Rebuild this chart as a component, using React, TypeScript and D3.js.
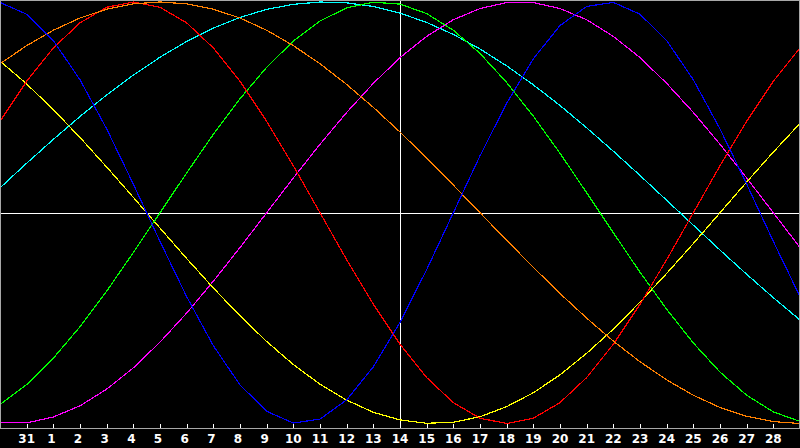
// BiorhythmChart.tsx
import React, { useEffect, useRef } from "react";
import * as d3 from "d3";

// Day labels under the ticks (tick 1..29)
const dayLabels = [
  "31", "1", "2", "3", "4", "5", "6", "7", "8", "9", "10", "11", "12", "13", "14",
  "15", "16", "17", "18", "19", "20", "21", "22", "23", "24", "25", "26", "27", "28",
];

// One value per day column (0..30), -1 .. 1
const physical = [
  0.998, 0.942, 0.817, 0.631, 0.398, 0.136, -0.136, -0.398, -0.631, -0.817, -0.942,
  -0.998, -0.979, -0.888, -0.731, -0.52, -0.27, 0, 0.27, 0.52, 0.731, 0.888, 0.979,
  0.998, 0.942, 0.817, 0.631, 0.398, 0.136, -0.136, -0.398,
];
const emotional = [
  0.434, 0.624, 0.782, 0.901, 0.975, 1, 0.975, 0.901, 0.782, 0.624, 0.434, 0.223, 0,
  -0.223, -0.434, -0.624, -0.782, -0.901, -0.975, -1, -0.975, -0.901, -0.782, -0.624,
  -0.434, -0.223, 0, 0.223, 0.434, 0.624, 0.782,
];
const intellectual = [
  -0.91, -0.815, -0.69, -0.541, -0.372, -0.189, 0, 0.189, 0.372, 0.541, 0.69, 0.815,
  0.91, 0.972, 0.999, 0.99, 0.945, 0.866, 0.756, 0.618, 0.458, 0.282, 0.095, -0.095,
  -0.282, -0.458, -0.618, -0.756, -0.866, -0.945, -0.99,
];
const intuitive = [
  -0.997, -0.997, -0.969, -0.916, -0.837, -0.736, -0.614, -0.476, -0.325, -0.165, 0,
  0.165, 0.325, 0.476, 0.614, 0.736, 0.837, 0.916, 0.969, 0.997, 0.997, 0.969, 0.916,
  0.837, 0.736, 0.614, 0.476, 0.325, 0.165, 0, -0.165,
];
const aesthetic = [
  0.72, 0.611, 0.489, 0.357, 0.217, 0.073, -0.073, -0.217, -0.357, -0.489, -0.611,
  -0.72, -0.814, -0.889, -0.947, -0.983, -0.999, -0.994, -0.968, -0.92, -0.854, -0.769,
  -0.667, -0.552, -0.424, -0.288, -0.146, 0, 0.146, 0.288, 0.424,
];
const awareness = [
  0.707, 0.793, 0.866, 0.924, 0.966, 0.991, 1, 0.991, 0.966, 0.924, 0.866, 0.793,
  0.707, 0.609, 0.5, 0.383, 0.259, 0.131, 0, -0.131, -0.259, -0.383, -0.5, -0.609,
  -0.707, -0.793, -0.866, -0.924, -0.966, -0.991, -1,
];
const spiritual = [
  0.118, 0.235, 0.348, 0.457, 0.559, 0.653, 0.738, 0.813, 0.876, 0.927, 0.965, 0.989,
  1.0, 0.996, 0.979, 0.947, 0.903, 0.846, 0.777, 0.697, 0.607, 0.509, 0.403, 0.292,
  0.177, 0.059, -0.059, -0.177, -0.292, -0.403, -0.509,
];

const seriesList = [
  { values: spiritual, color: "#00ffff" },
  { values: intuitive, color: "#ff00ff" },
  { values: aesthetic, color: "#ffff00" },
  { values: intellectual, color: "#00ff00" },
  { values: emotional, color: "#ff0000" },
  { values: awareness, color: "#ff8000" },
  { values: physical, color: "#0000ff" },
];

const todayIndex = 15; // column of "14"

const App: React.FC = () => {
  const ref = useRef<SVGSVGElement>(null);

  useEffect(() => {
    const width = 800,
      height = 448,
      plotBottom = 428;

    const svg = d3.select(ref.current);
    svg.selectAll("*").remove();

    // background
    svg.append("rect").attr("width", width).attr("height", height).attr("fill", "#000");

    const x = d3.scaleLinear().domain([0, 30]).range([0, width]);
    const y = d3.scaleLinear().domain([-1, 1]).range([423.5, 2]);

    // crosshair
    svg
      .append("line")
      .attr("x1", 0)
      .attr("x2", width)
      .attr("y1", 213.5)
      .attr("y2", 213.5)
      .attr("stroke", "#fff")
      .attr("stroke-width", 1)
      .attr("shape-rendering", "crispEdges");
    svg
      .append("line")
      .attr("x1", x(todayIndex) + 0.5)
      .attr("x2", x(todayIndex) + 0.5)
      .attr("y1", 0)
      .attr("y2", plotBottom)
      .attr("stroke", "#fff")
      .attr("stroke-width", 1)
      .attr("shape-rendering", "crispEdges");

    // curves
    const line = d3
      .line<number>()
      .x((_, i) => x(i))
      .y((d) => y(d));

    seriesList.forEach((s) => {
      svg
        .append("path")
        .datum(s.values)
        .attr("d", line)
        .attr("fill", "none")
        .attr("stroke", s.color)
        .attr("stroke-width", 1.2)
        .attr("shape-rendering", "crispEdges");
    });

    // frame (top, left, right, bottom axis)
    svg
      .append("path")
      .attr("d", `M0.5,${plotBottom + 0.5} V0.5 H${width - 0.5} V${plotBottom + 0.5} Z`)
      .attr("fill", "none")
      .attr("stroke", "#a8a8a8")
      .attr("stroke-width", 1)
      .attr("shape-rendering", "crispEdges");

    // ticks
    svg
      .selectAll(".tick")
      .data(dayLabels)
      .enter()
      .append("line")
      .attr("class", "tick")
      .attr("x1", (_, i) => Math.round(x(i + 1)) + 0.5)
      .attr("x2", (_, i) => Math.round(x(i + 1)) + 0.5)
      .attr("y1", plotBottom - 4)
      .attr("y2", plotBottom)
      .attr("stroke", "#fff")
      .attr("stroke-width", 1)
      .attr("shape-rendering", "crispEdges");

    // labels
    svg
      .selectAll(".label")
      .data(dayLabels)
      .enter()
      .append("text")
      .attr("class", "label")
      .attr("x", (d, i) => x(i + 1) + (d.length === 1 ? -2 : 0))
      .attr("y", 442.5)
      .attr("text-anchor", "middle")
      .attr("fill", "#fff")
      .style("font-family", "'DejaVu Sans', sans-serif")
      .style("font-weight", "bold")
      .style("font-size", "12px")
      .text((d) => d);
  }, []);

  return (
    <svg
      ref={ref}
      width={800}
      height={448}
      style={{ position: "fixed", left: 0, top: 0, display: "block" }}
    />
  );
};

export default App;
